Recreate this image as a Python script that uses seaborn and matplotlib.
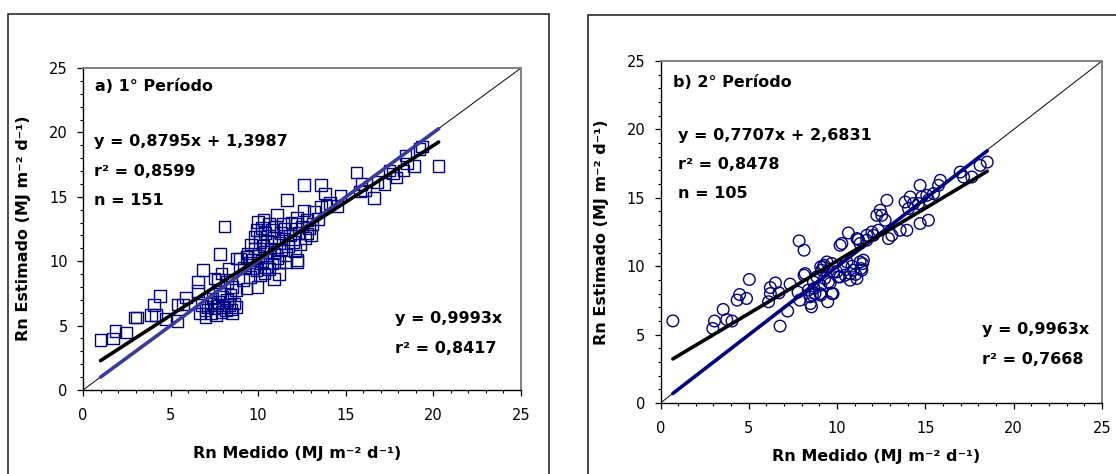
import matplotlib
matplotlib.use("Agg")
import matplotlib.pyplot as plt
from matplotlib.patches import Rectangle
from matplotlib.ticker import MultipleLocator
import pandas as pd
import seaborn as sns

# ---------------------------------------------------------------------------
# Net radiation, measured vs. estimated (MJ m-2 d-1)
# ---------------------------------------------------------------------------
# 1st period (151 days)
p1_medido = [
    1.0, 1.7, 1.85, 2.45, 2.97, 3.09, 3.89, 4.17, 4.07, 4.38, 4.71, 5.4, 5.4, 5.71, 5.87, 6.58, 6.58, 6.85,
    6.69, 6.99, 6.99, 7.3, 7.5, 7.71, 7.81, 7.91, 8.0, 8.22, 8.32, 8.42, 8.52, 8.62, 8.73, 7.3, 7.6, 6.79,
    7.1, 7.4, 7.95, 8.15, 8.45, 7.65,
    7.5, 7.71, 7.91, 8.22, 8.52, 8.73, 9.14, 9.54, 9.95, 10.11, 10.36, 9.34, 9.65, 10.46, 10.77, 11.18, 11.58, 12.2,
    7.83, 8.07, 8.3, 8.78, 8.97, 9.35, 9.83, 9.83, 10.1, 10.4, 10.3, 10.0, 11.07, 11.64, 12.6, 12.2, 12.8, 12.2,
    12.6, 13.6, 13.8, 13.2, 13.0, 14.1, 14.5, 14.7,
    15.6, 20.3, 19.2, 19.35, 18.4, 18.5, 18.9, 18.3, 17.5, 17.7, 17.9, 17.2, 16.8, 16.6, 15.9, 16.1, 15.8,
    13.9, 13.6, 12.2, 11.4, 12.8,
    9.4, 9.6, 9.7, 9.9, 10.0, 10.1, 10.2, 10.2, 10.3, 10.4, 10.5, 10.5, 10.6, 10.7, 10.8, 10.9, 10.9, 11.0,
    11.1, 11.2, 11.3, 11.3, 11.4, 11.5, 11.6, 11.7, 11.8, 11.9, 12.0, 12.1, 12.3, 12.4, 12.5, 12.7, 12.9,
    13.1, 13.4, 9.2, 9.5, 9.9, 10.6, 10.9, 11.2,
]
p1_estimado = [
    3.9, 4.0, 4.6, 4.45, 5.63, 5.63, 5.8, 5.8, 6.62, 7.31, 5.53, 5.35, 6.64, 6.64, 7.18, 7.7, 8.4, 9.3,
    5.94, 5.68, 6.2, 6.72, 6.33, 6.85, 7.49, 6.07, 6.46, 6.98, 6.59, 7.36, 5.94, 6.72, 6.46, 5.94, 5.81, 6.59,
    6.45, 7.1, 7.25, 6.2, 6.25, 6.55,
    8.66, 8.53, 9.04, 8.4, 8.01, 7.75, 8.53, 8.79, 8.01, 8.91, 9.04, 7.88, 9.43, 9.56, 9.82, 9.95, 9.95, 9.95,
    10.54, 12.7, 9.43, 10.2, 10.2, 10.33, 11.9, 11.0, 11.5, 10.7, 13.2, 13.05, 13.57, 14.73, 13.95, 13.4, 13.2, 10.08,
    15.9, 15.9, 15.25, 13.8, 12.0, 14.5, 14.3, 15.1,
    16.9, 17.4, 18.7, 18.9, 18.2, 17.6, 17.4, 17.05, 17.05, 16.8, 16.5, 16.0, 16.15, 14.9, 16.0, 15.5, 15.4,
    14.3, 14.2, 12.9, 12.9, 12.15,
    10.6, 11.3, 10.1, 12.4, 10.4, 11.9, 12.6, 10.0, 11.2, 12.2, 11.6, 10.3, 12.9, 11.0, 12.4, 10.6, 11.8, 12.7,
    10.2, 11.4, 12.2, 10.9, 11.7, 12.5, 10.5, 11.2, 12.0, 13.0, 11.5, 10.8, 12.2, 11.3, 12.7, 11.8, 12.6,
    12.9, 13.3, 9.5, 9.9, 9.3, 9.4, 8.6, 9.0,
]

# 2nd period (105 days)
p2_medido = [
    0.7, 2.96, 3.06, 3.55, 3.75, 4.05, 4.34, 4.48, 4.87, 5.03, 6.12, 6.22, 6.22, 6.51, 6.71, 6.77, 7.2, 7.34,
    7.89, 7.79, 8.13, 8.19, 7.85, 8.13, 8.49, 8.55, 8.6, 8.7, 8.37, 8.75, 9.04, 9.07, 9.07, 9.47, 9.77, 9.3,
    9.07, 9.27, 8.66, 8.85, 9.13, 9.42, 9.7, 9.79, 9.51, 9.98, 10.17, 10.36, 10.55, 10.74, 10.92, 11.12, 11.3,
    11.4, 11.49, 10.27, 10.17, 10.64, 11.21, 11.68, 11.97, 12.06, 12.25, 12.34, 11.3, 11.12, 11.68, 12.82,
    12.44, 12.53, 12.72, 13.57, 13.95, 13.1, 12.91, 14.7, 15.17, 13.85, 14.14, 14.04, 14.32, 14.61, 14.8,
    15.17, 14.7, 15.08, 15.46, 15.74, 15.84, 16.97, 17.16, 17.63, 18.1, 18.5, 10.74, 9.6, 9.22, 10.06, 10.45,
    10.85, 11.05, 11.35, 11.44, 8.47, 9.7,
]
p2_estimado = [
    6.0, 5.45, 5.99, 6.84, 6.1, 5.99, 7.52, 7.93, 7.64, 9.03, 7.4, 8.0, 8.44, 8.78, 8.05, 5.62, 6.72, 8.69,
    7.52, 8.1, 9.34, 9.46, 11.85, 11.17, 7.27, 7.03, 7.88, 8.37, 8.25, 8.0, 8.0, 7.88, 8.61, 7.4, 7.99, 9.1,
    9.95, 10.07, 8.85, 9.22, 9.71, 10.31, 10.2, 9.58, 8.85, 9.58, 9.22, 9.95, 10.31, 9.46, 9.71, 9.1, 10.31,
    9.71, 10.44, 11.66, 11.53, 12.43, 11.95, 12.26, 12.5, 12.26, 13.72, 12.63, 11.66, 12.02, 11.9, 14.82,
    14.09, 13.72, 13.36, 12.63, 12.63, 12.26, 12.02, 13.12, 13.36, 14.69, 15.06, 14.21, 14.58, 14.58, 15.06,
    14.84, 15.91, 15.18, 15.31, 15.91, 16.28, 16.88, 16.52, 16.52, 17.37, 17.61, 8.98, 8.74, 9.95, 9.22, 9.34,
    10.0, 9.4, 9.83, 10.19, 7.76, 8.0,
]

# Fitted equations printed on each panel
p1_slope, p1_intercept, p1_r2, p1_n = 0.8795, 1.3987, 0.8599, 151
p1_origin_slope, p1_origin_r2 = 0.9993, 0.8417
p2_slope, p2_intercept, p2_r2, p2_n = 0.7707, 2.6831, 0.8478, 105
p2_origin_slope, p2_origin_r2 = 0.9963, 0.7668

axis_ticks = [0, 5, 10, 15, 20, 25]
x_title = "Rn Medido (MJ m\u207b\u00b2 d\u207b\u00b9)"
y_title = "Rn Estimado (MJ m\u207b\u00b2 d\u207b\u00b9)"

sns.set_theme(style="white")
plt.rcParams["font.family"] = ["DejaVu Sans"]

W, H = 1116, 474
fig = plt.figure(figsize=(W / 100, H / 100), dpi=100)
fig.patch.set_facecolor("white")

# outer boxes around each panel
for x0, x1, top in [(8, 549, 14), (588, 1130, 15)]:
    fig.add_artist(Rectangle((x0 / W, -0.1), (x1 - x0) / W, 1.1 - top / H,
                             transform=fig.transFigure, fill=False,
                             edgecolor="#1a1a1a", linewidth=1.1))

ax1 = fig.add_axes([83 / W, 1 - 390 / H, 438 / W, 322 / H])
ax2 = fig.add_axes([660.5 / W, 1 - 403 / H, 441.5 / W, 342 / H])

navy = "#000080"


def panel(ax, med, est, marker, msize, slope, intercept, oslope, oline_color,
          title, eq_lines, title_pos, eq_pos, eq_step, ori_pos, ori_step,
          origin_lines):
    df = pd.DataFrame({"medido": med, "estimado": est})
    # 1:1 reference line
    sns.lineplot(x=[0, 25], y=[0, 25], color="black", linewidth=0.7, ax=ax)
    sns.scatterplot(data=df, x="medido", y="estimado", marker=marker, s=msize,
                    facecolor="none", edgecolor=navy, linewidth=1.0, ax=ax,
                    zorder=3)
    xmin, xmax = min(med), max(med)
    sns.lineplot(x=[xmin, xmax], y=[oslope * xmin, oslope * xmax],
                 color=oline_color, linewidth=2.6, ax=ax, zorder=4)
    sns.lineplot(x=[xmin, xmax], y=[slope * xmin + intercept, slope * xmax + intercept],
                 color="black", linewidth=2.6, ax=ax, zorder=5)

    ax.set_xlim(0, 25)
    ax.set_ylim(0, 25)
    ax.set_xticks(axis_ticks)
    ax.set_yticks(axis_ticks)
    ax.xaxis.set_minor_locator(MultipleLocator(1))
    ax.yaxis.set_minor_locator(MultipleLocator(1))
    ax.tick_params(which="major", direction="out", length=4, width=0.9,
                   color="black", labelsize=10.5, bottom=True, left=True)
    ax.tick_params(which="minor", direction="out", length=2.5, width=0.8,
                   color="black", bottom=True, left=True)
    ax.tick_params(axis="x", which="major", pad=9)
    ax.tick_params(axis="y", which="major", pad=7)
    for lab in ax.get_xticklabels() + ax.get_yticklabels():
        lab.set_color("black")
    for side in ["top", "right"]:
        ax.spines[side].set_color("#808080")
        ax.spines[side].set_linewidth(1.4)
    for side in ["left", "bottom"]:
        ax.spines[side].set_color("black")
        ax.spines[side].set_linewidth(1.0)

    ax.set_xlabel(x_title, fontsize=11.5, fontweight="bold", color="black")
    ax.set_ylabel(y_title, fontsize=11.5, fontweight="bold", color="black")

    txt = dict(fontsize=11.5, fontweight="bold", color="black", va="center", zorder=6)
    ax.text(title_pos[0], title_pos[1], title, ha="left", **txt)
    for i, line in enumerate(eq_lines):
        ax.text(eq_pos[0], eq_pos[1] - i * eq_step, line, ha="left", **txt)
    for i, line in enumerate(origin_lines):
        ax.text(ori_pos[0], ori_pos[1] - i * ori_step, line, ha="left", **txt)


def fmt(v):
    return f"{v:.4f}".replace(".", ",")


panel(ax1, p1_medido, p1_estimado, "s", 70, p1_slope, p1_intercept,
      p1_origin_slope, "#3a3a9e", "a) 1\u00b0 Per\u00edodo",
      [f"y = {fmt(p1_slope)}x + {fmt(p1_intercept)}", f"r\u00b2 = {fmt(p1_r2)}", f"n = {p1_n}"],
      (0.7, 23.6), (0.65, 19.3), 2.3, (17.8, 5.58), 2.35,
      [f"y = {fmt(p1_origin_slope)}x", f"r\u00b2 = {fmt(p1_origin_r2)}"])
panel(ax2, p2_medido, p2_estimado, "o", 70, p2_slope, p2_intercept,
      p2_origin_slope, navy, "b) 2\u00b0 Per\u00edodo",
      [f"y = {fmt(p2_slope)}x + {fmt(p2_intercept)}", f"r\u00b2 = {fmt(p2_r2)}", f"n = {p2_n}"],
      (0.73, 23.45), (1.0, 19.56), 2.13, (18.2, 5.38), 2.18,
      [f"y = {fmt(p2_origin_slope)}x", f"r\u00b2 = {fmt(p2_origin_r2)}"])

# axis title placement (axes fractions)
ax1.xaxis.set_label_coords(0.49, -0.196)
ax1.yaxis.set_label_coords(-0.135, 0.503)
ax2.xaxis.set_label_coords(0.489, -0.157)
ax2.yaxis.set_label_coords(-0.134, 0.50)
for ax in (ax1, ax2):
    ax.xaxis.label.set_va("center")
    ax.yaxis.label.set_va("center")

fig.savefig("out.png", dpi=100, facecolor="white")
